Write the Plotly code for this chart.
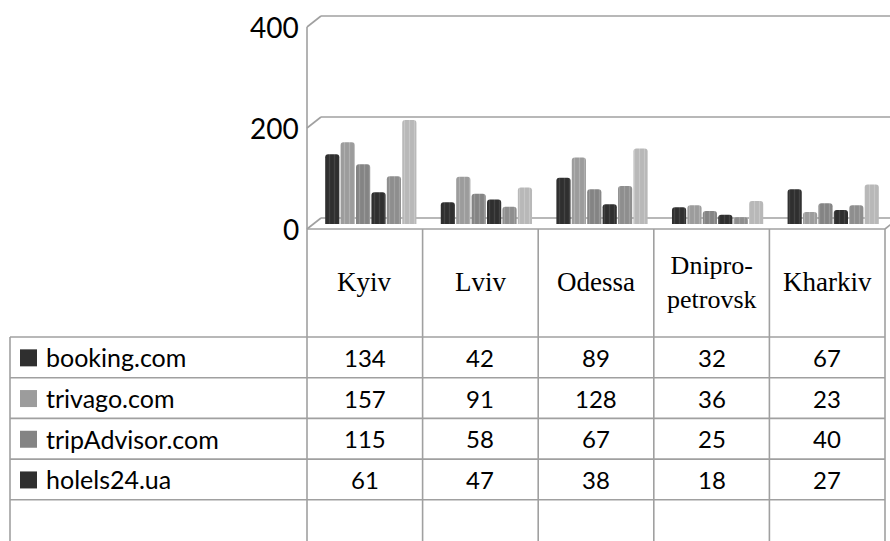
import plotly.graph_objects as go

# ---- data ----
cities = ["Kyiv", "Lviv", "Odessa", "Dnipro-<br>petrovsk", "Kharkiv"]
series_names = ["booking.com", "trivago.com", "tripAdvisor.com", "holels24.ua", "series 5", "series 6"]
booking = [134, 42, 89, 32, 67]
trivago = [157, 91, 128, 36, 23]
tripadvisor = [115, 58, 67, 25, 40]
hotels24 = [61, 47, 38, 18, 27]
series5 = [92, 33, 73, 13, 36]
series6 = [200, 70, 145, 44, 76]
y_ticks = [0, 200, 400]

values = [booking, trivago, tripadvisor, hotels24, series5, series6]
colors = ["#2f2f2f", "#9c9c9c", "#848484", "#2f2f2f", "#8e8e8e", "#b8b8b8"]
stripes = ["#5a5a5a", "#c4c4c4", "#adadad", "#5a5a5a", "#b4b4b4", "#d6d6d6"]
table_rows = 4  # rows visible in the data table

W, H = 890, 541
def X(px): return px / W
def Y(py): return 1 - py / H

# layout geometry (pixels)
left_front = 307
col_w = (885 - 307) / 5
dx, dy = 14, -11
floor_front = 229
base_y = 224
top_y = 16
header_bottom = 337
row_h = 40.7
cat_positions = list(range(len(cities)))

fig = go.Figure()
for name, vals, c, s in zip(series_names, values, colors, stripes):
    fig.add_trace(go.Bar(
        x=cat_positions, y=vals, name=name,
        marker=dict(color=c, line=dict(width=0), cornerradius=3,
                    pattern=dict(shape="|", fgcolor=s, bgcolor=c, size=5, solidity=0.25)),
        showlegend=False, hoverinfo="skip"))

shift = 6 / col_w
fig.update_layout(
    width=W, height=H, margin=dict(l=0, r=0, t=0, b=0),
    paper_bgcolor="white", plot_bgcolor="rgba(0,0,0,0)",
    barmode="group", bargap=0.2, bargroupgap=0.08,
    xaxis=dict(domain=[X(307), X(885)], range=[-0.5 - shift, 4.5 - shift],
               visible=False, fixedrange=True),
    yaxis=dict(domain=[Y(base_y), Y(top_y)], range=[0, 400],
               visible=False, fixedrange=True),
)

shapes = []
grid = dict(color="#a0a0a0", width=1.6)
def line(x0, y0, x1, y1, layer="below"):
    shapes.append(dict(type="line", xref="paper", yref="paper",
                       x0=X(x0), y0=Y(y0), x1=X(x1), y1=Y(y1),
                       line=grid, layer=layer))

# back-wall gridlines and left wall diagonals
for t in y_ticks:
    front = floor_front - t * (floor_front - 27) / 400
    back = front + dy
    line(left_front, front, left_front + dx, back)
    if t > 0:
        line(left_front + dx, back, W + 2, back)
# floor back edge
line(left_front + dx, floor_front + dy, W + 2, floor_front + dy)
# left vertical edge
line(left_front, 27, left_front, floor_front)
# floor front edge and right diagonal (drawn above bars)
line(left_front, floor_front, 885, floor_front, layer="above")
line(885, floor_front, 885 + dx, floor_front + dy, layer="above")

# table: column lines
for i in range(len(cities) + 1):
    x = left_front + i * col_w
    line(x, floor_front, x, H + 2, layer="above")
# table row lines
for r in range(table_rows + 1):
    yy = header_bottom + r * row_h
    line(10, yy, 885, yy, layer="above")
line(10, header_bottom, 10, H + 2, layer="above")

annotations = []
# y tick labels
for t in y_ticks:
    front = floor_front - t * (floor_front - 27) / 400
    annotations.append(dict(text=str(t), xref="paper", yref="paper", x=X(301), y=Y(front),
                            xanchor="right", yanchor="middle", showarrow=False,
                            font=dict(family="Lato", size=28, color="#000")))
# category labels
for i, c in enumerate(cities):
    cx = left_front + (i + 0.5) * col_w
    multi = "<br>" in c
    annotations.append(dict(text=c, xref="paper", yref="paper", x=X(cx),
                            y=Y((floor_front + header_bottom) / 2 - 1),
                            xanchor="center", yanchor="middle", showarrow=False,
                            font=dict(family="Liberation Serif", size=26 if multi else 27, color="#000")))
# table rows
for r in range(table_rows):
    cy = header_bottom + (r + 0.5) * row_h
    shapes.append(dict(type="rect", xref="paper", yref="paper",
                       x0=X(20), x1=X(37), y0=Y(cy - 8), y1=Y(cy + 9),
                       fillcolor=colors[r], line=dict(width=0), layer="above"))
    annotations.append(dict(text=series_names[r], xref="paper", yref="paper", x=X(44), y=Y(cy),
                            xanchor="left", yanchor="middle", showarrow=False,
                            font=dict(family="Lato", size=25, color="#000")))
    for i, v in enumerate(values[r]):
        cx = left_front + (i + 0.5) * col_w
        annotations.append(dict(text=str(v), xref="paper", yref="paper", x=X(cx), y=Y(cy),
                                xanchor="center", yanchor="middle", showarrow=False,
                                font=dict(family="Lato", size=24, color="#000")))

fig.update_layout(shapes=shapes, annotations=annotations)
fig.write_html("out.html", config={"displayModeBar": False, "staticPlot": True},
               post_script="document.body.style.margin='0';document.body.style.overflow='hidden';")
